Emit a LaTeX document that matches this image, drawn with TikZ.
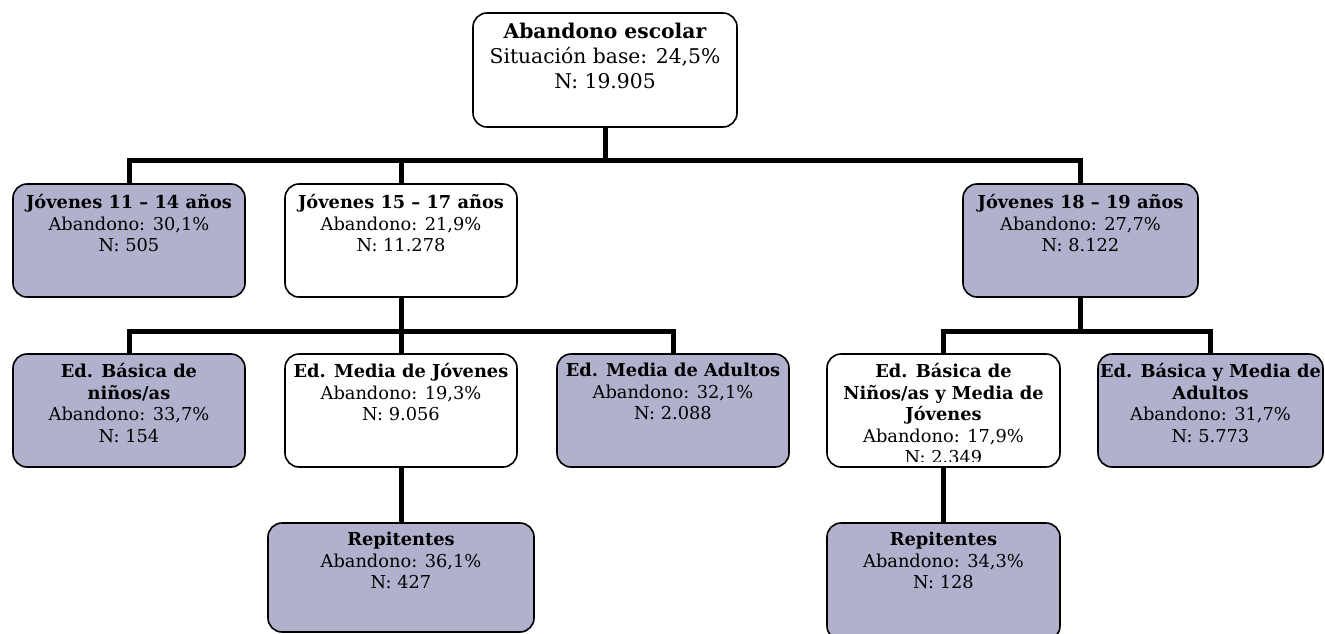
\documentclass[tikz,border=0pt]{standalone}
\usepackage{fontspec}
\setmainfont{DejaVu Serif}
\definecolor{boxfill}{RGB}{177,177,205}
\tikzset{
  box/.style={draw=black, line width=1.6pt, rounded corners=14pt, inner sep=0pt},
  shaded/.style={box, fill=boxfill},
  plain/.style={box, fill=white},
  conn/.style={draw=black, line width=5pt, line join=miter},
  lbl/.style={anchor=north, align=center, inner sep=0pt, font=\fontsize{17.8}{21.5}\selectfont},
  biglbl/.style={lbl, font=\fontsize{20.3}{25}\selectfont},
}
% name, x1, y1, x2, y2, style
\newcommand\mkbox[6]{%
  \node[#6, minimum width={(#4-#2)*1pt}, minimum height={(#5-#3)*1pt}]
    (#1) at ({(#2+#4)/2},{(#3+#5)/2}) {};}
\begin{document}
\begin{tikzpicture}[x=1pt, y=-1pt]
\useasboundingbox (0,0) rectangle (1325,633);

% bar levels
\coordinate (bar1) at (0,160);
\coordinate (bar2) at (0,331);

% boxes
\mkbox{top}{473}{13}{737}{127}{plain}
\mkbox{a}{13}{184}{245}{297}{shaded}
\mkbox{b}{285}{184}{517}{297}{plain}
\mkbox{c}{963}{184}{1198}{297}{shaded}
\mkbox{d}{13}{354}{245}{467}{shaded}
\mkbox{e}{285}{354}{517}{467}{plain}
\mkbox{f}{557}{354}{789}{467}{shaded}
\mkbox{g}{827}{354}{1060}{467}{plain}
\mkbox{h}{1098}{354}{1323}{467}{shaded}
\mkbox{r1}{268}{523}{534}{632}{shaded}
\mkbox{r2}{827}{523}{1060}{640}{shaded}

% connectors
\draw[conn] (top.south) -- (top.south |- bar1) -| (a.north);
\draw[conn] (top.south |- bar1) -| (c.north);
\draw[conn] (b.north) -- (b.north |- bar1);
\draw[conn] (b.south) -- (b.south |- bar2) -| (d.north);
\draw[conn] (b.south |- bar2) -| (f.north);
\draw[conn] (e.north) -- (e.south |- bar2);
\draw[conn] (c.south) -- (c.south |- bar2) -| (g.north);
\draw[conn] (c.south |- bar2) -| (h.north);
\draw[conn] (e.south) -- (r1.north);
\draw[conn] (g.south) -- (r2.north);

% texts
\node[biglbl] (top-t) at ([yshift=-11pt]top.north) {\textbf{Abandono escolar}\\Situación base: 24,5\%\\N: 19.905};
\node[lbl] (a-t) at ([yshift=-11pt]a.north) {\textbf{Jóvenes 11 – 14 años}\\Abandono: 30,1\%\\N: 505};
\node[lbl] (b-t) at ([yshift=-11pt]b.north) {\textbf{Jóvenes 15 – 17 años}\\Abandono: 21,9\%\\N: 11.278};
\node[lbl] (c-t) at ([yshift=-11pt]c.north) {\textbf{Jóvenes 18 – 19 años}\\Abandono: 27,7\%\\N: 8.122};
\node[lbl] (d-t) at ([yshift=-10pt]d.north) {\textbf{Ed. Básica de}\\\textbf{niños/as}\\Abandono: 33,7\%\\N: 154};
\node[lbl] (e-t) at ([yshift=-10pt]e.north) {\textbf{Ed. Media de Jóvenes}\\Abandono: 19,3\%\\N: 9.056};
\node[lbl] (f-t) at ([yshift=-10pt]f.north) {\textbf{Ed. Media de Adultos}\\Abandono: 32,1\%\\N: 2.088};
\begin{scope}
  \clip (829,356) rectangle (1058,461);
  \node[lbl] (g-t) at ([yshift=-10pt]g.north) {\textbf{Ed. Básica de}\\\textbf{Niños/as y Media de}\\\textbf{Jóvenes}\\Abandono: 17,9\%\\N: 2.349};
\end{scope}
\node[lbl] (h-t) at ([yshift=-10pt]h.north) {\textbf{Ed. Básica y Media de}\\\textbf{Adultos}\\Abandono: 31,7\%\\N: 5.773};
\node[lbl] (r1-t) at ([yshift=-10pt]r1.north) {\textbf{Repitentes}\\Abandono: 36,1\%\\N: 427};
\node[lbl] (r2-t) at ([yshift=-10pt]r2.north) {\textbf{Repitentes}\\Abandono: 34,3\%\\N: 128};
\end{tikzpicture}
\end{document}
